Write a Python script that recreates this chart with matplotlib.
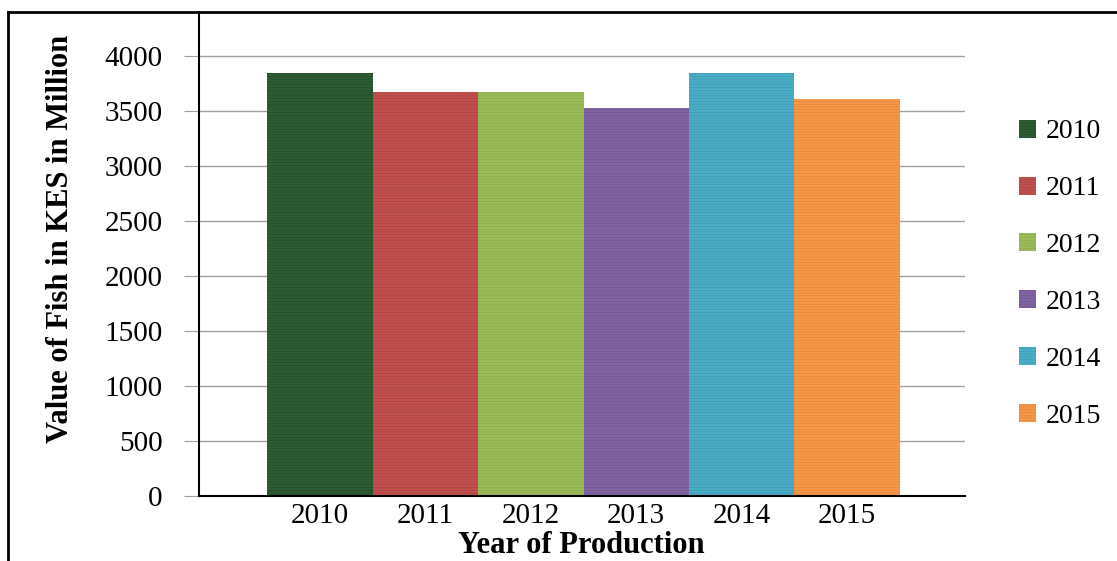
import matplotlib
matplotlib.use("Agg")
import matplotlib.pyplot as plt
from matplotlib.lines import Line2D

# data
years = ["2010", "2011", "2012", "2013", "2014", "2015"]
values = [3840, 3675, 3675, 3530, 3840, 3610]
colors = ["#2d5b32", "#c0504d", "#9bbb59", "#8064a2", "#4bacc6", "#f79646"]
hatch_colors = ["#244a28", "#a84340", "#89a84c", "#6f558f", "#3f98b0", "#e0853a"]
yticks = [0, 500, 1000, 1500, 2000, 2500, 3000, 3500, 4000]

plt.rcParams["font.family"] = ["Liberation Serif", "DejaVu Serif"]
plt.rcParams["hatch.linewidth"] = 0.4

fig = plt.figure(figsize=(11.17, 5.61), dpi=100)
ax = fig.add_axes([0.178, 0.116, 0.686, 0.863])

x = list(range(len(years)))
bars = ax.bar(x, values, width=1.0, color=colors, edgecolor=hatch_colors,
              linewidth=0, hatch="------", label=years, zorder=2)

ax.set_xlim(-1.15, 6.12)
ax.set_ylim(0, 4400)
ax.set_yticks(yticks)
ax.set_yticklabels([str(v) for v in yticks], fontsize=21)
ax.set_xticks(x)
ax.set_xticklabels(years, fontsize=21)
ax.tick_params(axis="x", length=0, pad=5)
ax.tick_params(axis="y", length=11, color="#a0a0a0", pad=15)

ax.grid(axis="y", color="#a0a0a0", linewidth=1, zorder=0)
ax.set_axisbelow(True)
for s in ["top", "right"]:
    ax.spines[s].set_visible(False)
ax.spines["left"].set_linewidth(1.5)
ax.spines["bottom"].set_linewidth(1.5)

ax.set_ylabel("Value of Fish in KES in Million", fontsize=22, fontweight="bold")
ax.yaxis.set_label_coords(-0.1615, 0.531)
fig.text(0.52, 0.002, "Year of Production", fontsize=22, fontweight="bold",
         ha="center", va="bottom")

ax.legend(bars, years, loc="upper left", bbox_to_anchor=(0.900, 0.812),
          bbox_transform=fig.transFigure, frameon=False, fontsize=20,
          labelspacing=1.15, handlelength=0.62, handleheight=0.62,
          handletextpad=0.32, borderpad=0)

# outer frame of the cropped image (left and top edges)
fig.add_artist(Line2D([0.0075, 0.0075], [0.0, 0.979], color="black", linewidth=2,
                      transform=fig.transFigure))
fig.add_artist(Line2D([0.0075, 1.0], [0.979, 0.979], color="black", linewidth=2,
                      transform=fig.transFigure))

fig.savefig("out.png", dpi=100)
